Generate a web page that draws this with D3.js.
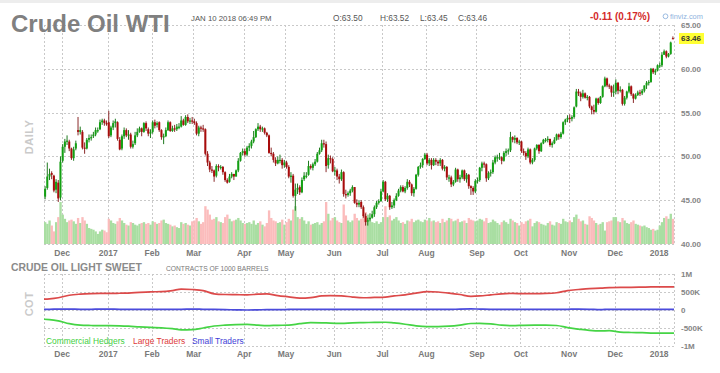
<!DOCTYPE html>
<html><head><meta charset="utf-8">
<script src="https://cdn.jsdelivr.net/npm/d3@7"></script>
<style>body{margin:0;background:#fff;} svg{display:block;font-family:"Liberation Sans",Arial,sans-serif;}</style>
</head><body>
<script>
// ---- DATA ----
const startDate = "2016-11-18", endDate = "2018-01-10";
const holidays = ["2016-11-24","2016-12-26","2017-01-02","2017-01-16","2017-02-20","2017-04-14","2017-05-29","2017-07-04","2017-09-04","2017-11-23","2017-12-25","2018-01-01"];
const monthLabels = ["Dec","2017","Feb","Mar","Apr","May","Jun","Jul","Aug","Sep","Oct","Nov","Dec","2018"];
const priceTicks = [40,45,50,55,60,65];
const cotTicks = [1000,500,0,-500,-1000];
const cotTickLabels = ["1M","500K","0","-500K","-1M"];

const close = [
46.3,47.7,48.0,47.9,46.1,47.1,45.2,49.4,
51.1,51.7,51.8,50.9,49.8,50.8,51.5,52.8,53.0,51.0,50.9,51.9,52.1,52.2,52.5,53.0,53.0,53.9,54.1,53.8,53.7,
52.3,53.3,53.8,54.0,52.0,50.8,52.3,53.0,52.4,52.5,51.1,51.4,52.4,52.8,53.2,52.8,53.8,53.2,52.6,52.8,
53.9,53.5,53.8,53.0,52.2,52.3,53.0,53.9,52.9,53.2,53.1,53.4,53.4,54.1,53.6,54.5,54.0,54.1,54.0,
53.8,52.6,53.3,53.2,53.1,50.3,49.3,48.5,48.4,47.7,48.9,48.8,48.8,48.2,47.3,47.0,47.7,48.0,47.7,48.4,49.5,50.4,50.6,
50.2,51.0,51.2,51.7,52.2,53.1,53.4,53.1,53.2,52.7,52.4,50.4,50.3,49.6,49.2,49.6,49.6,49.0,49.3,
48.8,47.7,47.8,45.5,46.2,46.4,45.9,47.3,47.8,47.8,48.9,48.7,49.1,49.4,50.3,50.7,51.5,51.4,48.9,49.8,49.7,48.3,
48.4,47.7,47.4,48.2,45.7,45.6,45.8,46.1,46.5,44.7,44.5,44.7,44.2,43.2,42.5,42.7,43.0,43.4,44.2,44.7,44.9,46.0,
47.1,45.1,45.5,44.2,44.4,45.0,45.5,46.1,46.5,46.0,46.4,47.1,46.8,45.8,46.3,47.9,48.8,49.0,49.7,50.2,
49.2,49.6,49.0,49.6,49.4,49.2,49.6,48.6,48.8,47.6,47.6,46.8,47.1,48.5,47.4,47.6,48.4,47.4,47.9,46.6,46.4,46.0,47.2,
47.3,48.7,49.2,49.1,47.5,48.1,48.2,49.3,49.9,49.9,49.9,49.5,50.4,50.6,50.7,52.2,51.9,52.1,51.6,51.7,
50.6,50.4,50.0,50.8,49.3,49.6,50.9,51.3,50.6,51.5,51.9,51.9,52.0,51.3,51.5,51.9,52.5,52.2,52.6,53.9,54.2,54.4,
54.3,54.5,55.6,57.4,57.2,56.8,57.2,56.7,56.8,55.7,55.3,55.1,56.6,56.1,56.8,58.0,58.9,58.1,58.0,57.3,57.4,
58.4,57.5,57.6,56.0,56.7,57.4,58.0,57.1,56.6,57.0,57.3,57.2,57.5,58.1,58.4,58.5,60.0,59.6,59.8,60.4,
60.4,61.6,62.0,61.4,61.7,63.0,63.46];
const open = [
45.4,46.4,47.7,48.1,47.8,46.2,47.0,45.3,
49.5,51.1,51.8,51.7,50.9,49.8,50.9,53.0,52.8,52.8,51.0,50.9,51.9,52.1,52.3,52.5,53.0,53.1,53.9,54.1,53.8,
53.9,52.4,53.3,53.8,53.9,51.9,50.9,52.3,53.0,52.4,52.5,51.1,51.5,52.4,52.8,53.2,52.8,53.8,53.1,52.6,
52.8,53.9,53.6,53.9,53.0,52.2,52.3,53.0,53.9,52.9,53.2,53.1,53.4,53.4,54.1,53.6,54.5,54.0,54.1,
54.0,53.8,52.6,53.3,53.2,53.1,50.3,49.3,48.5,48.4,47.8,48.9,48.8,48.8,48.2,47.3,47.1,47.7,48.0,47.7,48.4,49.5,50.4,
50.6,50.2,51.0,51.2,51.7,52.2,53.1,53.4,53.1,53.2,52.7,52.4,50.4,50.3,49.6,49.2,49.6,49.6,49.0,
49.3,48.8,47.7,47.8,45.5,46.2,46.5,45.9,47.4,47.8,47.9,48.9,48.7,49.1,49.4,50.3,50.7,51.5,51.4,49.0,49.8,49.7,
48.3,48.4,47.7,47.4,48.2,45.7,45.6,45.8,46.1,46.5,44.7,44.5,44.8,44.2,43.2,42.6,42.8,43.0,43.4,44.2,44.7,44.9,
46.0,47.1,45.1,45.5,44.2,44.4,45.0,45.5,46.1,46.5,46.0,46.4,47.1,46.8,45.8,46.3,47.9,48.8,49.0,49.7,
50.2,49.2,49.6,49.0,49.6,49.4,49.2,49.6,48.6,48.8,47.6,47.6,46.8,47.1,48.5,47.4,47.6,48.4,47.4,47.9,46.6,46.4,46.0,
47.2,47.3,48.7,49.2,49.1,47.5,48.1,48.2,49.3,49.9,49.9,49.9,49.5,50.4,50.6,50.7,52.2,51.9,52.1,51.6,
51.7,50.6,50.4,50.0,50.8,49.3,49.6,50.9,51.3,50.6,51.5,51.9,51.9,52.0,51.3,51.5,51.9,52.5,52.2,52.6,53.9,54.2,
54.4,54.3,54.5,55.7,57.4,57.2,56.8,57.2,56.7,56.8,55.7,55.3,55.1,56.6,56.1,56.8,58.0,58.9,58.1,58.0,57.3,
57.4,58.4,57.5,57.6,56.0,56.7,57.4,58.0,57.1,56.6,57.0,57.3,57.2,57.5,58.1,58.4,58.5,60.0,59.6,59.8,
60.4,60.4,61.6,62.0,61.4,61.7,63.5];
const high = [
46.6,49.3,48.6,48.3,47.9,47.4,47.3,50.0,
51.4,52.0,52.4,51.9,51.0,51.1,51.8,54.5,53.4,53.0,51.6,52.1,52.5,52.5,52.8,53.3,53.3,54.2,54.3,54.3,54.1,
55.2,53.5,54.1,54.3,54.0,52.2,52.5,53.3,53.2,53.0,52.7,51.8,52.8,53.2,53.4,53.3,53.9,54.0,53.3,53.1,
54.1,54.2,54.0,54.0,53.1,52.6,53.3,54.1,54.0,53.5,53.6,53.7,53.8,54.6,54.3,54.7,54.8,54.4,54.5,
54.3,54.0,53.5,53.5,53.6,53.2,50.6,49.5,48.9,48.5,49.1,49.1,49.0,48.9,48.3,47.5,48.0,48.2,48.0,48.5,49.8,50.5,50.9,
50.9,51.2,51.5,51.9,52.9,53.2,53.8,53.6,53.4,53.3,52.8,52.5,51.0,50.5,49.9,50.0,50.2,49.8,49.6,
49.5,49.0,48.2,48.0,46.9,46.9,46.7,47.6,48.2,48.2,49.5,49.1,49.3,49.7,50.5,51.0,51.9,51.9,51.7,50.2,50.1,49.9,
48.8,48.6,48.0,48.5,48.3,46.2,46.0,46.3,46.7,46.5,45.1,45.0,45.0,44.4,43.5,43.0,43.5,43.8,44.4,44.9,45.1,46.3,
47.3,47.2,45.8,45.6,44.8,45.2,45.8,46.3,46.7,46.7,46.6,47.4,47.3,46.9,46.5,48.0,48.9,49.3,49.8,50.4,
50.4,49.8,49.8,49.8,49.8,49.6,49.8,49.7,49.0,48.9,47.9,47.8,47.3,48.7,48.6,47.9,48.5,48.5,48.1,48.0,46.7,46.6,47.4,
47.6,48.8,49.4,49.4,49.2,48.3,48.5,49.6,50.1,50.2,50.4,50.0,50.6,50.9,50.9,52.8,52.3,52.4,52.2,51.9,
51.8,50.9,50.6,51.0,50.9,49.8,51.0,51.4,51.4,51.6,52.0,52.1,52.3,52.0,51.7,52.2,52.6,52.6,52.8,54.0,54.3,54.7,
54.8,54.7,55.7,57.7,57.7,57.4,57.6,57.3,57.0,56.9,55.8,55.9,56.7,56.7,56.9,58.1,59.1,59.0,58.3,58.1,58.2,
58.8,58.5,58.0,57.7,56.9,57.5,58.4,58.1,57.2,57.2,57.5,57.6,57.7,58.1,58.6,58.7,60.1,60.1,60.0,60.5,
60.7,61.9,62.2,62.1,61.8,63.1,63.7];
const low = [
45.1,46.2,47.3,47.4,45.9,45.8,44.8,45.0,
49.3,50.4,51.3,50.6,49.6,49.5,50.7,52.4,52.5,50.8,50.3,50.8,51.6,51.8,52.1,52.3,52.7,53.0,53.6,53.5,53.5,
52.1,52.2,53.0,53.3,51.8,50.7,50.7,52.0,52.2,51.9,50.9,50.9,51.3,52.2,52.7,52.3,52.7,52.9,52.3,52.1,
52.6,53.2,53.3,52.8,51.9,51.4,52.2,52.9,52.8,52.8,52.8,52.9,53.1,53.3,53.5,53.5,53.8,53.7,53.7,
53.6,52.4,52.3,52.8,52.8,50.1,48.9,48.2,48.1,47.1,47.6,48.3,48.5,47.9,47.1,46.9,47.0,47.5,47.3,47.7,48.2,49.4,50.1,
50.0,50.0,50.6,50.9,51.5,52.1,52.9,52.8,52.8,52.5,52.2,50.3,50.0,49.3,48.9,49.1,49.2,48.6,48.7,
48.6,47.5,47.0,45.3,43.8,45.7,45.6,45.8,47.2,47.5,47.8,48.5,48.4,48.9,49.3,50.2,50.5,51.0,48.2,48.6,49.2,48.2,
47.8,47.3,46.9,47.2,45.4,45.2,45.4,45.5,45.9,44.6,44.2,44.2,44.0,43.0,42.1,42.1,42.6,42.9,43.1,44.0,44.5,44.8,
45.9,44.9,44.8,43.9,44.0,44.1,44.9,45.4,45.9,45.9,45.8,46.2,46.5,45.5,45.4,46.2,47.7,48.6,48.7,49.6,
49.0,48.9,48.5,48.9,49.0,48.9,48.9,48.4,48.3,47.3,47.1,46.5,46.6,47.0,47.1,47.0,47.4,47.2,47.0,46.3,45.6,45.6,45.8,
46.9,47.1,48.3,48.7,47.1,47.3,47.7,48.0,49.1,49.4,49.6,49.1,49.4,50.0,50.2,50.5,51.6,51.5,51.4,51.3,
50.4,50.1,49.6,49.8,49.1,49.1,49.4,50.7,50.3,50.5,51.4,51.6,51.6,51.1,51.0,51.4,51.8,51.9,52.0,52.5,53.6,53.9,
53.8,54.0,54.3,55.6,56.9,56.3,56.6,56.6,56.4,55.5,54.8,54.8,55.0,55.9,56.0,56.7,57.9,57.9,57.7,56.8,56.8,
57.1,57.1,57.3,55.8,55.8,56.5,57.2,56.9,56.1,56.5,56.9,56.9,57.0,57.3,57.7,58.1,58.4,59.4,59.3,59.7,
60.1,60.2,61.6,61.2,61.3,61.6,63.4];
const volume = [
520,480,560,440,300,520,640,1000,
700,600,520,560,580,540,480,620,500,640,560,480,380,360,340,300,240,300,340,320,280,
600,560,500,480,540,620,560,500,460,440,520,500,460,440,480,500,520,480,500,460,
540,520,480,500,560,580,500,480,460,420,440,400,380,520,480,500,460,440,540,
560,620,540,480,520,900,820,700,580,600,640,540,520,500,640,700,600,540,560,580,620,560,500,
480,500,520,480,560,460,500,540,460,420,500,800,620,560,540,500,520,580,460,
520,600,560,820,900,640,600,640,560,480,540,460,480,500,520,460,500,540,1000,720,560,620,
640,560,520,500,940,680,560,520,560,720,620,560,600,700,760,700,560,520,500,540,480,520,
640,900,640,680,560,600,640,560,500,520,480,560,540,600,520,560,580,540,520,580,
560,620,540,560,520,540,500,600,520,560,620,600,540,560,600,520,540,560,500,620,580,560,540,
560,600,580,540,620,500,520,580,540,500,460,520,560,520,480,600,560,520,500,440,
520,480,540,560,600,420,500,540,520,480,460,440,500,540,460,440,520,500,480,600,540,520,
560,520,640,700,600,540,560,480,460,660,620,560,500,460,480,520,320,520,540,560,640,
640,540,520,620,560,500,480,520,560,480,460,440,420,440,400,380,340,360,320,340,
440,520,620,660,600,720,600];

// COT weekly (thousands of contracts), weeks starting 2016-11-15
const cotStart = "2016-11-15";
const largeTraders = [300,310,340,410,440,455,460,460,465,470,490,505,510,540,580,570,540,450,430,425,420,440,450,400,365,330,345,390,400,395,360,340,350,360,390,420,470,510,500,470,430,380,390,420,450,460,455,455,460,480,540,570,595,605,620,630,630,635,640,640];
const commercialHedgers = [-255,-265,-300,-380,-420,-430,-435,-435,-440,-450,-470,-485,-495,-520,-550,-545,-500,-445,-420,-405,-400,-420,-435,-425,-420,-380,-350,-355,-365,-370,-355,-350,-345,-340,-360,-395,-440,-460,-460,-450,-420,-375,-370,-385,-420,-435,-425,-420,-420,-430,-490,-530,-565,-580,-575,-615,-625,-630,-640,-645];
const smallTraders = [20,20,25,25,20,20,25,25,20,20,20,20,20,20,20,25,20,15,10,5,0,5,10,10,15,20,20,15,20,15,20,20,15,15,20,20,20,20,15,15,25,30,25,20,20,20,15,15,15,15,20,25,20,10,20,20,20,20,20,20];

// ---- TRADING CALENDAR ----
const parse = d3.utcParse("%Y-%m-%d"), fmt = d3.utcFormat("%Y-%m-%d");
const hol = new Set(holidays);
const dates = d3.utcDays(parse(startDate), d3.utcDay.offset(parse(endDate), 1))
  .filter(d => d.getUTCDay() !== 0 && d.getUTCDay() !== 6 && !hol.has(fmt(d)));
const N = Math.min(dates.length, close.length);
const bars = d3.range(N).map(i => ({i, date: dates[i], o: open[i], h: high[i], l: low[i], c: close[i], v: volume[i]}));
const monthIdx = [];
for (let i = 1; i < N; i++) if (dates[i].getUTCMonth() !== dates[i-1].getUTCMonth()) monthIdx.push(i);
function dateIdx(d) {
  const j = d3.bisectLeft(dates, d);
  if (j <= 0) return (d - dates[0]) / 864e5 * 5 / 7;
  if (j >= N) return N - 1;
  return j;
}

// ---- LAYOUT ----
const W = 720, H = 373;
const X0 = 44, X1 = 674;
const svg = d3.select("body").append("svg").attr("width", W).attr("height", H);
const xl = d3.scaleLinear().domain([0, N]).range([X0, X1]);
const bw = (X1 - X0) / N;
const y = d3.scaleLinear().domain([40, 65]).range([244, 25]);
const yv = d3.scaleLinear().domain([0, 1000]).range([244, 202]);
const yc = d3.scaleLinear().domain([-1000, 1000]).range([346, 274]);
const grid = "#c9c9c9";
const px = v => Math.round(v) + 0.5;

svg.append("rect").attr("x",0).attr("y",0).attr("width",W).attr("height",3).attr("fill","#ededed");

// main panel grid
const g = svg.append("g");
g.selectAll(".hg").data(priceTicks).join("line")
  .attr("x1", X0).attr("x2", X1).attr("y1", d => px(y(d))).attr("y2", d => px(y(d)))
  .attr("stroke", grid).attr("stroke-dasharray", "2,2");
g.selectAll(".vg").data([0, ...monthIdx, N]).join("line")
  .attr("x1", d => px(xl(d))).attr("x2", d => px(xl(d))).attr("y1", y(65)).attr("y2", y(40))
  .attr("stroke", grid).attr("stroke-dasharray", "2,2");

// volume
svg.append("g").selectAll("rect").data(bars).join("rect")
  .attr("x", d => xl(d.i)).attr("width", bw + 0.15)
  .attr("y", d => yv(d.v)).attr("height", d => yv(0) - yv(d.v))
  .attr("fill", d => d.c >= d.o ? "#a9dea2" : "#fbbcbc");

// candles
const cg = svg.append("g");
const col = d => d.c >= d.o ? "#13a013" : "#a80c0c";
cg.selectAll("line").data(bars).join("line")
  .attr("x1", d => xl(d.i + 0.5)).attr("x2", d => xl(d.i + 0.5))
  .attr("y1", d => y(d.h)).attr("y2", d => y(d.l))
  .attr("stroke", d => d.c >= d.o ? "#1f7a1f" : "#8a2a2a").attr("stroke-width", 1);
cg.selectAll("rect").data(bars).join("rect")
  .attr("x", d => xl(d.i) + 0.1).attr("width", bw * 0.92)
  .attr("y", d => y(Math.max(d.o, d.c)))
  .attr("height", d => Math.max(1.2, Math.abs(y(d.o) - y(d.c))))
  .attr("fill", col);

// x axis main
const axM = svg.append("g").attr("transform", "translate(0,250)")
  .call(d3.axisBottom(xl).tickValues(monthIdx).tickFormat((d, i) => monthLabels[i]).tickSize(0).tickPadding(0));
axM.select(".domain").remove();
axM.selectAll("text").attr("font-size", "8.5px").attr("font-weight", "bold").attr("fill", "#7a7a7a").attr("font-family", "Liberation Sans, Arial");

// y axis price
const axP = svg.append("g").attr("transform", "translate(681,0)")
  .call(d3.axisRight(y).tickValues(priceTicks).tickFormat(d3.format(".2f")).tickSize(0).tickPadding(0));
axP.select(".domain").remove();
axP.selectAll("text").attr("font-size", "8px").attr("font-weight", "bold").attr("fill", "#858585").attr("font-family", "Liberation Sans, Arial");

// last price tag
const last = bars[N - 1].c;
svg.append("rect").attr("x", 679).attr("y", y(last) - 5.5).attr("width", 25).attr("height", 11).attr("fill", "#ffff33");
svg.append("text").attr("x", 681).attr("y", y(last) + 3).attr("font-size", "8px").attr("font-weight", "bold").attr("fill", "#333").text(d3.format(".2f")(last));

// header
svg.append("text").attr("x", 11).attr("y", 32).attr("font-size", "24px").attr("font-weight", "bold").attr("fill", "#808080").text("Crude Oil WTI");
svg.append("text").attr("x", 191).attr("y", 20.5).attr("font-size", "7.8px").attr("fill", "#555").text("JAN 10 2018 06:49 PM");
const ohlc = [["O:63.50", 333], ["H:63.52", 380], ["L:63.45", 420], ["C:63.46", 458]];
svg.selectAll(".ohlc").data(ohlc).join("text").attr("x", d => d[1]).attr("y", 20.5)
  .attr("font-size", "8.3px").attr("fill", "#555").text(d => d[0]);
svg.append("text").attr("x", 590).attr("y", 20).attr("font-size", "10px").attr("font-weight", "bold").attr("fill", "#d42a2a").text("-0.11 (0.17%)");
svg.append("circle").attr("cx", 665.5).attr("cy", 16.3).attr("r", 2.4).attr("fill", "none").attr("stroke", "#8fb3de").attr("stroke-width", 0.9);
svg.append("text").attr("x", 670).attr("y", 19).attr("font-size", "7.4px").attr("fill", "#8fb3de").text("finviz.com");
svg.append("text").attr("transform", "translate(33,137) rotate(-90)").attr("text-anchor", "middle")
  .attr("font-size", "11px").attr("font-weight", "bold").attr("fill", "#cacaca").attr("letter-spacing", "0.5px").text("DAILY");

// ---- COT panel ----
svg.append("text").attr("x", 11).attr("y", 271).attr("font-size", "10.4px").attr("font-weight", "bold").attr("fill", "#8a8a8a").text("CRUDE OIL LIGHT SWEET");
svg.append("text").attr("x", 166).attr("y", 270.8).attr("font-size", "6.7px").attr("fill", "#777").text("CONTRACTS OF 1000 BARRELS");
svg.append("text").attr("transform", "translate(33,304) rotate(-90)").attr("text-anchor", "middle")
  .attr("font-size", "11px").attr("font-weight", "bold").attr("fill", "#cacaca").attr("letter-spacing", "0.5px").text("COT");

const cg2 = svg.append("g");
cg2.selectAll(".hg").data(cotTicks).join("line")
  .attr("x1", X0).attr("x2", X1).attr("y1", d => px(yc(d))).attr("y2", d => px(yc(d)))
  .attr("stroke", grid).attr("stroke-dasharray", "2,2");
cg2.selectAll(".vg").data([0, ...monthIdx, N]).join("line")
  .attr("x1", d => px(xl(d))).attr("x2", d => px(xl(d))).attr("y1", yc(1000)).attr("y2", yc(-1000))
  .attr("stroke", grid).attr("stroke-dasharray", "2,2");

svg.append("clipPath").attr("id", "cotclip").append("rect").attr("x", X0).attr("y", 270).attr("width", X1 - X0).attr("height", 80);
const wk = largeTraders.map((_, k) => d3.utcDay.offset(parse(cotStart), 7 * k));
const wkIdx = wk.map(dateIdx);
const series = [
  {vals: commercialHedgers, color: "#45d445"},
  {vals: largeTraders, color: "#dc4a4a"},
  {vals: smallTraders, color: "#4b4bdc"}
];
const line = d3.line().x(d => d[0]).y(d => yc(d[1])).curve(d3.curveMonotoneX);
const lg = svg.append("g").attr("clip-path", "url(#cotclip)");
series.forEach(s => {
  const pts = s.vals.map((v, k) => [xl(wkIdx[k] + 0.5), v]);
  pts.push([xl(N), s.vals[s.vals.length - 1]]);
  lg.append("path").attr("d", line(pts)).attr("fill", "none").attr("stroke", s.color).attr("stroke-width", 1.7);
});

const axC = svg.append("g").attr("transform", "translate(681,0)")
  .call(d3.axisRight(yc).tickValues(cotTicks).tickFormat((d, i) => cotTickLabels[i]).tickSize(0).tickPadding(0));
axC.select(".domain").remove();
axC.selectAll("text").attr("font-size", "8px").attr("font-weight", "bold").attr("fill", "#858585").attr("font-family", "Liberation Sans, Arial");

const axC2 = svg.append("g").attr("transform", "translate(0,351)")
  .call(d3.axisBottom(xl).tickValues(monthIdx).tickFormat((d, i) => monthLabels[i]).tickSize(0).tickPadding(0));
axC2.select(".domain").remove();
axC2.selectAll("text").attr("font-size", "8.5px").attr("font-weight", "bold").attr("fill", "#7a7a7a").attr("font-family", "Liberation Sans, Arial");

const legend = [["Commercial Hedgers", "#3fcf3f", 46], ["Large Traders", "#dd3a3a", 133], ["Small Traders", "#3e3ed6", 192]];
svg.selectAll(".leg").data(legend).join("text").attr("x", d => d[2]).attr("y", 343.5)
  .attr("font-size", "8.4px").attr("fill", d => d[1]).text(d => d[0]);
</script>
</body></html>
